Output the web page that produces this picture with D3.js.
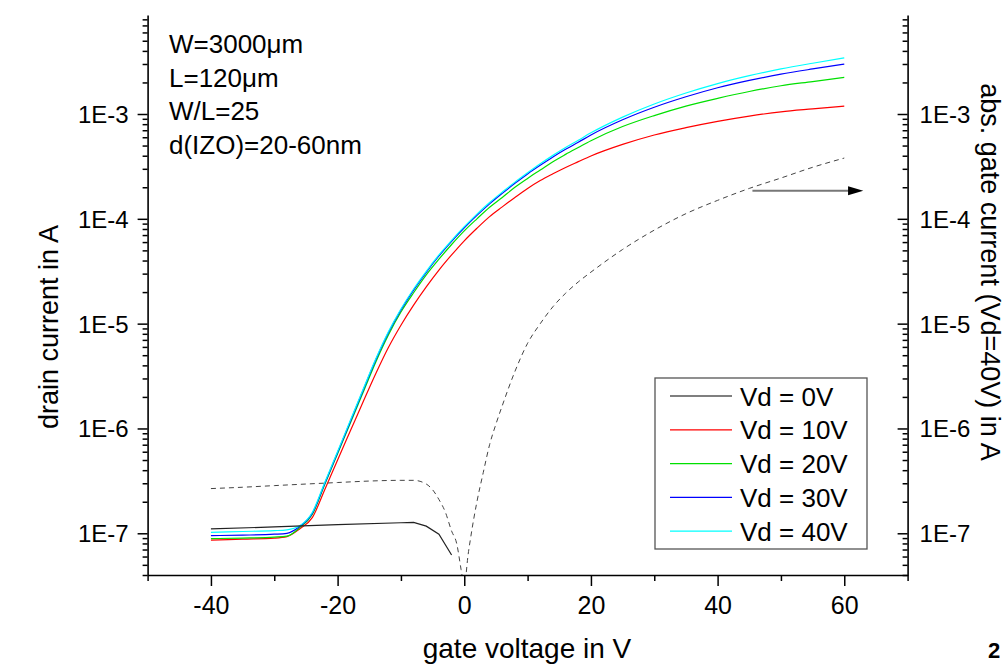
<!DOCTYPE html>
<html lang="en">
<head>
  <meta charset="UTF-8">
  <title>IZO transistor transfer curves</title>
  <script src="https://d3js.org/d3.v7.min.js"></script>
  <style>
    body { margin: 0; background: #fff; }
    text { font-family: "Liberation Sans", Arial, sans-serif; fill: #000; }
  </style>
</head>
<body>
  <svg id="chart" width="1008" height="666"></svg>

  <script>
    // gate voltage grid for the drain current curves
    const vg = [-40, -35, -30, -28, -26, -24, -22, -20, -18, -16, -14, -12, -10, -8, -6, -4, -2,
                0, 2, 4, 6, 8, 10, 12, 14, 16, 18, 20, 25, 30, 35, 40, 45, 50, 55, 60];

    const id10 = [8.6e-8, 8.8e-8, 9.0e-8, 9.3e-8, 1.1e-7, 1.41e-7, 2.63e-7, 5.01e-7, 9.44e-7, 1.78e-6, 3.31e-6, 5.89e-6, 9.66e-6, 1.5e-5, 2.24e-5, 3.24e-5, 4.52e-5,
                  6.17e-5, 8.13e-5, 1.05e-4, 1.3e-4, 1.6e-4, 1.95e-4, 2.32e-4, 2.69e-4, 3.09e-4, 3.51e-4, 3.98e-4, 5.13e-4, 6.31e-4, 7.41e-4, 8.51e-4, 9.55e-4, 1.05e-3, 1.12e-3, 1.19e-3];
    const id20 = [8.9e-8, 9.0e-8, 9.2e-8, 9.4e-8, 1.13e-7, 1.51e-7, 2.95e-7, 5.75e-7, 1.12e-6, 2.19e-6, 4.27e-6, 7.76e-6, 1.29e-5, 1.97e-5, 2.92e-5, 4.12e-5, 5.69e-5,
                  7.67e-5, 1.0e-4, 1.29e-4, 1.6e-4, 2.0e-4, 2.43e-4, 2.92e-4, 3.51e-4, 4.12e-4, 4.79e-4, 5.56e-4, 7.59e-4, 9.66e-4, 1.19e-3, 1.41e-3, 1.64e-3, 1.86e-3, 2.04e-3, 2.24e-3];
    const id30 = [9.5e-8, 9.6e-8, 9.8e-8, 1.0e-7, 1.16e-7, 1.55e-7, 3.02e-7, 5.89e-7, 1.16e-6, 2.29e-6, 4.47e-6, 8.13e-6, 1.35e-5, 2.09e-5, 3.09e-5, 4.42e-5, 6.1e-5,
                  8.22e-5, 1.08e-4, 1.39e-4, 1.75e-4, 2.18e-4, 2.68e-4, 3.24e-4, 3.89e-4, 4.6e-4, 5.37e-4, 6.31e-4, 8.81e-4, 1.16e-3, 1.46e-3, 1.78e-3, 2.09e-3, 2.4e-3, 2.69e-3, 2.99e-3];
    const id40 = [1.02e-7, 1.04e-7, 1.06e-7, 1.08e-7, 1.18e-7, 1.58e-7, 3.09e-7, 6.03e-7, 1.19e-6, 2.34e-6, 4.57e-6, 8.32e-6, 1.38e-5, 2.14e-5, 3.16e-5, 4.52e-5, 6.24e-5,
                  8.41e-5, 1.11e-4, 1.43e-4, 1.8e-4, 2.24e-4, 2.75e-4, 3.35e-4, 4.03e-4, 4.79e-4, 5.62e-4, 6.61e-4, 9.33e-4, 1.245e-3, 1.585e-3, 1.95e-3, 2.32e-3, 2.69e-3, 3.05e-3, 3.43e-3];

    // Vd = 0V is only measured up to about -2V
    const vg0 = [-40, -30, -20, -10, -8, -6, -4, -2];
    const id0 = [1.10e-7, 1.15e-7, 1.21e-7, 1.26e-7, 1.27e-7, 1.17e-7, 0.98e-7, 6.2e-8];

    // abs. gate current at Vd=40V, two branches around the sign change at 0V
    const vgGateL = [-40, -35, -30, -25, -20, -15, -10, -8, -6, -5, -4, -3, -2, -1.2, -0.5, -0.2];
    const igGateL = [2.67e-7, 2.75e-7, 2.85e-7, 2.95e-7, 3.05e-7, 3.15e-7, 3.2e-7, 3.2e-7, 2.95e-7, 2.6e-7, 2.1e-7, 1.6e-7, 1.05e-7, 8.0e-8, 4.5e-8, 3.5e-8];
    const vgGateR = [0.2, 0.5, 1, 2, 3, 4, 5, 6, 8, 10, 12, 14, 16, 18, 20, 25, 30, 35, 40, 45, 50, 55, 60];
    const igGateR = [3.5e-8, 5.5e-8, 9.0e-8, 2.0e-7, 3.8e-7, 7.0e-7, 1.1e-6, 1.65e-6, 3.5e-6, 6.5e-6, 1.0e-5, 1.45e-5, 1.95e-5, 2.5e-5, 3.1e-5, 5.1e-5, 7.8e-5, 1.12e-4, 1.5e-4, 1.95e-4, 2.45e-4, 3.1e-4, 3.8e-4];

    const legendLabels = ["Vd = 0V", "Vd = 10V", "Vd = 20V", "Vd = 30V", "Vd = 40V"];
    const seriesColors = ["#000000", "#ff0000", "#00e000", "#0000ff", "#00ffff"];
    const noteLines = ["W=3000\u03bcm", "L=120\u03bcm", "W/L=25", "d(IZO)=20-60nm"];

    const xMajor = [-40, -20, 0, 20, 40, 60];
    const xMinor = [-50, -30, -10, 10, 30, 50, 70];
    const yMajor = [1e-7, 1e-6, 1e-5, 1e-4, 1e-3];

    const svg = d3.select("#chart");
    const plotL = 147.6, plotR = 907.6, plotT = 15, plotB = 575;

    const x = d3.scaleLinear().domain([-50, 70]).range([plotL, plotR]);
    const y = d3.scaleLog().domain([4e-8, 8.8e-3]).range([plotB, plotT]);

    // minor log ticks 2..9 of every decade inside the domain
    const yMinor = [];
    for (let e = -8; e <= -3; e++) {
      for (let m = 2; m <= 9; m++) {
        const v = m * Math.pow(10, e);
        if (v >= 4e-8 && v <= 8.8e-3) yMinor.push(v);
      }
    }
    const fmtE = d => "1E" + Math.round(Math.log10(d));
    const noLabel = () => "";

    svg.append("defs").append("clipPath").attr("id", "plotClip")
      .append("rect").attr("x", plotL).attr("y", plotT)
      .attr("width", plotR - plotL).attr("height", plotB - plotT);

    const plot = svg.append("g").attr("clip-path", "url(#plotClip)");

    const line = d3.line()
      .x(d => x(d[0]))
      .y(d => y(d[1]))
      .curve(d3.curveMonotoneX);

    // drain currents
    const drainSeries = [id10, id20, id30, id40];
    drainSeries.forEach((vals, i) => {
      plot.append("path")
        .datum(vg.map((v, k) => [v, vals[k]]))
        .attr("d", line)
        .attr("fill", "none")
        .attr("stroke", seriesColors[i + 1])
        .attr("stroke-width", 1.2);
    });

    plot.append("path")
      .datum(vg0.map((v, k) => [v, id0[k]]))
      .attr("d", d3.line().x(d => x(d[0])).y(d => y(d[1])))
      .attr("fill", "none")
      .attr("stroke", "#222")
      .attr("stroke-width", 1.2);

    // gate current, dashed
    [[vgGateL, igGateL], [vgGateR, igGateR]].forEach(([vs, is]) => {
      plot.append("path")
        .datum(vs.map((v, k) => [v, is[k]]))
        .attr("d", line)
        .attr("fill", "none")
        .attr("stroke", "#444")
        .attr("stroke-width", 1)
        .attr("stroke-dasharray", "5,4");
    });

    // axes
    function styleAxis(g, width) {
      g.select(".domain").attr("stroke", "#000").attr("stroke-width", 1.6);
      g.selectAll(".tick line").attr("stroke", "#000").attr("stroke-width", width);
    }

    const gLeft = svg.append("g").attr("transform", `translate(${plotL},0)`);
    gLeft.call(d3.axisLeft(y).tickValues(yMajor).tickFormat(fmtE).tickSize(10).tickSizeOuter(0).tickPadding(9));
    gLeft.append("g").call(d3.axisLeft(y).tickValues(yMinor).tickFormat(noLabel).tickSize(5).tickSizeOuter(0))
      .select(".domain").remove();
    styleAxis(gLeft, 1.5);
    gLeft.selectAll("text").attr("font-size", 24).attr("dy", "0.35em");

    const gRight = svg.append("g").attr("transform", `translate(${plotR},0)`);
    gRight.call(d3.axisRight(y).tickValues(yMajor).tickFormat(fmtE).tickSize(-10).tickSizeOuter(0).tickPadding(12));
    gRight.append("g").call(d3.axisRight(y).tickValues(yMinor).tickFormat(noLabel).tickSize(-5).tickSizeOuter(0))
      .select(".domain").remove();
    styleAxis(gRight, 1.5);
    gRight.selectAll("text").attr("font-size", 24).attr("dy", "0.35em");

    const gBottom = svg.append("g").attr("transform", `translate(0,${plotB})`);
    gBottom.call(d3.axisBottom(x).tickValues(xMajor).tickFormat(d => d < 0 ? "-" + Math.abs(d) : String(d))
      .tickSize(11).tickSizeOuter(0).tickPadding(10));
    gBottom.append("g").call(d3.axisBottom(x).tickValues(xMinor).tickFormat(noLabel).tickSize(6).tickSizeOuter(0))
      .select(".domain").remove();
    styleAxis(gBottom, 1.5);
    gBottom.selectAll("text").attr("font-size", 25).attr("y", 39).attr("dy", 0);

    // axis titles
    svg.append("text")
      .attr("transform", "translate(58,327) rotate(-90)")
      .attr("text-anchor", "middle")
      .attr("font-size", 27)
      .text("drain current in A");

    svg.append("text")
      .attr("transform", "translate(981,272) rotate(90)")
      .attr("text-anchor", "middle")
      .attr("font-size", 27)
      .text("abs. gate current (Vd=40V) in A");

    svg.append("text")
      .attr("x", 527).attr("y", 658)
      .attr("text-anchor", "middle")
      .attr("font-size", 28)
      .text("gate voltage in V");

    svg.append("text")
      .attr("x", 988).attr("y", 658)
      .attr("font-size", 22)
      .attr("font-weight", "bold")
      .text("2");

    // device note
    noteLines.forEach((t, i) => {
      svg.append("text")
        .attr("x", 169).attr("y", 53 + i * 33.5)
        .attr("font-size", 26)
        .text(t);
    });

    // arrow pointing to the right axis
    const arrowY = y(1.85e-4);
    svg.append("line")
      .attr("x1", x(45.5)).attr("x2", x(61))
      .attr("y1", arrowY).attr("y2", arrowY)
      .attr("stroke", "#777").attr("stroke-width", 2);
    svg.append("path")
      .attr("d", `M${x(60.6)},${arrowY - 4.5}L${x(63)},${arrowY}L${x(60.6)},${arrowY + 4.5}Z`)
      .attr("fill", "#000");

    // legend
    const legend = svg.append("g").attr("transform", "translate(655,378)");
    legend.append("rect")
      .attr("width", 212).attr("height", 171)
      .attr("fill", "#fff")
      .attr("stroke", "#555").attr("stroke-width", 1.3);
    legendLabels.forEach((lab, i) => {
      const cy = 18 + i * 33.8;
      legend.append("line")
        .attr("x1", 15).attr("x2", 77)
        .attr("y1", cy).attr("y2", cy)
        .attr("stroke", seriesColors[i]).attr("stroke-width", 1.2);
      legend.append("text")
        .attr("x", 85).attr("y", cy + 9.5)
        .attr("font-size", 26)
        .text(lab);
    });
  </script>
</body>
</html>
